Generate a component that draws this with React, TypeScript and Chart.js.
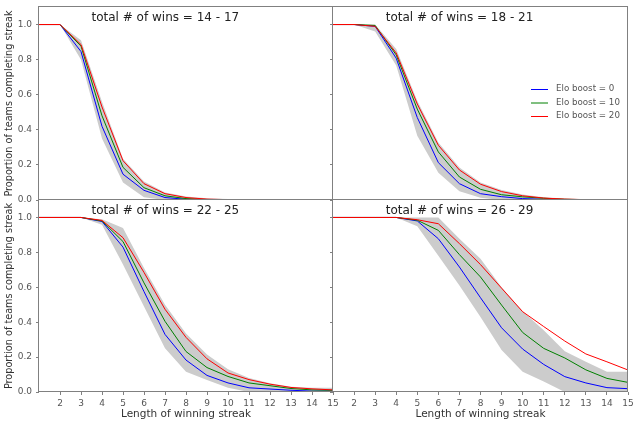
import React, { useEffect, useRef } from "react";
import { Chart, registerables } from "chart.js";

Chart.register(...registerables);
Chart.defaults.font.family = "'DejaVu Sans', sans-serif";

// x values and ticks
const streakLengths = [1, 2, 3, 4, 5, 6, 7, 8, 9, 10, 11, 12, 13, 14, 15];
const xTickValues = [2, 3, 4, 5, 6, 7, 8, 9, 10, 11, 12, 13, 14, 15];
const yTickValues = [0, 0.2, 0.4, 0.6, 0.8, 1.0];

const seriesNames = ["Elo boost = 0", "Elo boost = 10", "Elo boost = 20"];
const seriesColors = ["#0000ff", "#008000", "#ff0000"];

// total # of wins = 14 - 17
const wins14Boost0 = [1, 1, 0.846, 0.42, 0.147, 0.055, 0.014, 0.004, 0.001, 0, 0, 0, 0, 0, 0];
const wins14Boost10 = [1, 1, 0.877, 0.48, 0.186, 0.07, 0.024, 0.008, 0.003, 0.001, 0, 0, 0, 0, 0];
const wins14Boost20 = [1, 1, 0.886, 0.53, 0.224, 0.093, 0.036, 0.014, 0.005, 0.002, 0.001, 0, 0, 0, 0];
const wins14Upper = [1, 1, 0.91, 0.56, 0.235, 0.106, 0.043, 0.02, 0.01, 0.005, 0.002, 0.001, 0, 0, 0];
const wins14Lower = [1, 1, 0.8, 0.35, 0.1, 0.015, 0, 0, 0, 0, 0, 0, 0, 0, 0];

// total # of wins = 18 - 21
const wins18Boost0 = [1, 1, 0.99, 0.808, 0.47, 0.213, 0.093, 0.036, 0.019, 0.008, 0.004, 0.002, 0.001, 0, 0];
const wins18Boost10 = [1, 1, 0.995, 0.827, 0.518, 0.274, 0.131, 0.061, 0.03, 0.018, 0.01, 0.004, 0.002, 0.001, 0];
const wins18Boost20 = [1, 1, 0.99, 0.838, 0.547, 0.312, 0.171, 0.09, 0.048, 0.024, 0.011, 0.005, 0.002, 0.001, 0];
const wins18Upper = [1, 1, 1, 0.86, 0.566, 0.328, 0.185, 0.1, 0.057, 0.032, 0.016, 0.008, 0.004, 0.002, 0.001];
const wins18Lower = [1, 1, 0.96, 0.766, 0.366, 0.156, 0.05, 0.013, 0, 0, 0, 0, 0, 0, 0];

// total # of wins = 22 - 25
const wins22Boost0 = [1, 1, 1, 0.977, 0.83, 0.575, 0.33, 0.183, 0.095, 0.052, 0.024, 0.017, 0.01, 0.005, 0.006];
const wins22Boost10 = [1, 1, 1, 0.98, 0.862, 0.625, 0.405, 0.232, 0.14, 0.089, 0.052, 0.036, 0.02, 0.012, 0.01];
const wins22Boost20 = [1, 1, 1, 0.983, 0.884, 0.685, 0.474, 0.313, 0.19, 0.109, 0.071, 0.045, 0.026, 0.018, 0.012];
const wins22Upper = [1, 1, 1, 0.99, 0.94, 0.71, 0.5, 0.335, 0.215, 0.13, 0.08, 0.05, 0.03, 0.025, 0.025];
const wins22Lower = [1, 1, 1, 0.958, 0.73, 0.49, 0.25, 0.116, 0.069, 0.025, 0, 0, 0, 0, 0];

// total # of wins = 26 - 29
const wins26Boost0 = [1, 1, 1, 1, 0.98, 0.878, 0.716, 0.54, 0.368, 0.246, 0.158, 0.088, 0.052, 0.025, 0.019];
const wins26Boost10 = [1, 1, 1, 1, 0.984, 0.926, 0.787, 0.659, 0.498, 0.341, 0.25, 0.195, 0.127, 0.078, 0.055];
const wins26Boost20 = [1, 1, 1, 1, 0.987, 0.964, 0.85, 0.73, 0.595, 0.46, 0.375, 0.292, 0.218, 0.173, 0.126];
const wins26Upper = [1, 1, 1, 1, 1, 1, 0.878, 0.764, 0.6, 0.463, 0.354, 0.234, 0.173, 0.116, 0.116];
const wins26Lower = [1, 1, 1, 1, 0.95, 0.78, 0.61, 0.43, 0.24, 0.116, 0.06, 0, 0, 0, 0];

const axisGray = "#808080";
const tickColor = "#555555";
const labelColor = "#333333";

// frame, in-axes title and the legend (matplotlib style)
const panelPlugin = {
  id: "panelText",
  afterDatasetsDraw(chart: any, _args: any, opts: any) {
    const { ctx, chartArea, scales } = chart;
    const { left, top, right, bottom } = chartArea;
    ctx.save();
    ctx.strokeStyle = axisGray;
    ctx.lineWidth = 1;
    ctx.strokeRect(left - 0.5, top - 0.5, right - left, bottom - top);

    ctx.fillStyle = "#222222";
    ctx.font = "12px 'DejaVu Sans'";
    ctx.textAlign = "left";
    ctx.textBaseline = "alphabetic";
    ctx.fillText(
      opts.title,
      scales.x.getPixelForValue(3.5),
      scales.y.getPixelForValue(1.02),
    );

    if (opts.legend) {
      ctx.font = "8.7px 'DejaVu Sans'";
      ctx.textBaseline = "middle";
      seriesNames.forEach((name, i) => {
        const y = top + 82 + i * 13.5;
        const x0 = right - 97;
        ctx.strokeStyle = seriesColors[i];
        ctx.beginPath();
        ctx.moveTo(x0, y + 0.5);
        ctx.lineTo(x0 + 17, y + 0.5);
        ctx.stroke();
        ctx.fillStyle = tickColor;
        ctx.fillText(name, x0 + 25, y);
      });
    }
    ctx.restore();
  },
};

type PanelProps = {
  left: number;
  top: number;
  width: number;
  height: number;
  padTop: number;
  yWidth: number;
  xHeight: number;
  showY: boolean;
  showX: boolean;
  title: string;
  lower: number[];
  upper: number[];
  lines: number[][];
  legend?: boolean;
};

function Panel(p: PanelProps) {
  const canvasRef = useRef<HTMLCanvasElement>(null);

  useEffect(() => {
    if (!canvasRef.current) return;
    const pts = (vals: number[]) =>
      streakLengths.map((x, i) => ({ x, y: vals[i] }));

    const chart = new Chart(canvasRef.current, {
      type: "line",
      data: {
        datasets: [
          {
            label: "lower",
            data: pts(p.lower),
            borderColor: "transparent",
            borderWidth: 0,
            pointRadius: 0,
            fill: false,
            order: 5,
          },
          {
            label: "upper",
            data: pts(p.upper),
            borderColor: "transparent",
            borderWidth: 0,
            pointRadius: 0,
            fill: "-1",
            backgroundColor: "#cccccc",
            order: 4,
          },
          ...p.lines.map((vals, i) => ({
            label: seriesNames[i],
            data: pts(vals),
            borderColor: seriesColors[i],
            borderWidth: 1,
            pointRadius: 0,
            fill: false,
            tension: 0,
            order: 3 - i,
          })),
        ],
      },
      options: {
        responsive: false,
        maintainAspectRatio: false,
        animation: false,
        layout: { padding: { left: 0, top: p.padTop, right: 12, bottom: 0 } },
        plugins: {
          legend: { display: false },
          tooltip: { enabled: false },
          filler: { drawTime: "beforeDatasetsDraw" },
          panelText: { title: p.title, legend: !!p.legend },
        } as any,
        scales: {
          x: {
            type: "linear",
            min: 1,
            max: 15,
            afterBuildTicks: (s: any) => {
              s.ticks = xTickValues.map((v) => ({ value: v }));
            },
            afterFit: (s: any) => {
              s.height = p.xHeight;
              s.paddingLeft = 0;
              s.paddingRight = 0;
            },
            border: { display: false },
            grid: {
              drawOnChartArea: false,
              drawTicks: p.showX,
              tickLength: 3,
              color: axisGray,
            },
            ticks: {
              display: p.showX,
              padding: 3,
              autoSkip: false,
              maxRotation: 0,
              color: tickColor,
              font: { size: 9 },
            },
            title: {
              display: p.showX,
              text: "Length of winning streak",
              color: labelColor,
              font: { size: 10.5 },
              padding: { top: 0, bottom: 6 },
            },
          },
          y: {
            type: "linear",
            min: 0,
            max: 1.1,
            afterBuildTicks: (s: any) => {
              s.ticks = yTickValues.map((v) => ({ value: v }));
            },
            afterFit: (s: any) => {
              s.width = p.yWidth;
              s.paddingTop = 0;
              s.paddingBottom = 0;
            },
            border: { display: false },
            grid: {
              drawOnChartArea: false,
              drawTicks: true,
              tickLength: 3,
              color: axisGray,
            },
            ticks: {
              display: p.showY,
              padding: 4,
              color: tickColor,
              font: { size: 9 },
              callback: (v: any) => Number(v).toFixed(1),
            },
            title: {
              display: p.showY,
              text: "Proportion of teams completing streak",
              color: labelColor,
              font: { size: 9.7 },
              padding: { top: 4, bottom: 0 },
            },
          },
        },
      },
      plugins: [panelPlugin],
    });

    return () => chart.destroy();
  }, []);

  return (
    <canvas
      ref={canvasRef}
      width={p.width}
      height={p.height}
      style={{
        position: "absolute",
        left: p.left,
        top: p.top,
        width: p.width,
        height: p.height,
      }}
    />
  );
}

export default function App() {
  return (
    <div
      style={{
        position: "absolute",
        left: 0,
        top: 0,
        width: 640,
        height: 427,
        background: "#ffffff",
        overflow: "hidden",
      }}
    >
      <Panel
        left={0}
        top={0}
        width={345}
        height={212}
        padTop={7}
        yWidth={39}
        xHeight={12}
        showY
        showX={false}
        title="total # of wins = 14 - 17"
        lower={wins14Lower}
        upper={wins14Upper}
        lines={[wins14Boost0, wins14Boost10, wins14Boost20]}
      />
      <Panel
        left={0}
        top={190}
        width={345}
        height={237}
        padTop={10}
        yWidth={39}
        xHeight={35}
        showY
        showX
        title="total # of wins = 22 - 25"
        lower={wins22Lower}
        upper={wins22Upper}
        lines={[wins22Boost0, wins22Boost10, wins22Boost20]}
      />
      <Panel
        left={330}
        top={0}
        width={310}
        height={212}
        padTop={7}
        yWidth={3}
        xHeight={12}
        showY={false}
        showX={false}
        title="total # of wins = 18 - 21"
        lower={wins18Lower}
        upper={wins18Upper}
        lines={[wins18Boost0, wins18Boost10, wins18Boost20]}
        legend
      />
      <Panel
        left={330}
        top={190}
        width={310}
        height={237}
        padTop={10}
        yWidth={3}
        xHeight={35}
        showY={false}
        showX
        title="total # of wins = 26 - 29"
        lower={wins26Lower}
        upper={wins26Upper}
        lines={[wins26Boost0, wins26Boost10, wins26Boost20]}
      />
    </div>
  );
}
